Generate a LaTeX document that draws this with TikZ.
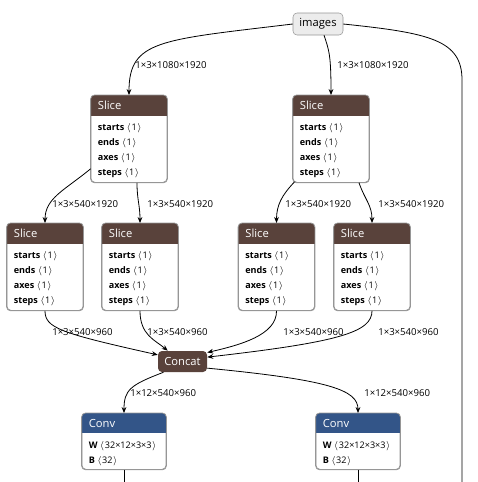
\documentclass[tikz,border=0pt]{standalone}
\usepackage{fontspec}
\setmainfont{Open Sans}
\usetikzlibrary{arrows.meta,calc}
\definecolor{tt}{RGB}{89,66,59}
\definecolor{layer}{RGB}{51,85,136}
\definecolor{frm}{RGB}{150,150,150}
\newcommand{\br}[1]{$\langle\mkern1mu$#1$\mkern1mu\rangle$}
\tikzset{
 edge/.style={-{Stealth[length=4.5pt,width=3.6pt]}, line width=0.6pt, black},
 plain/.style={line width=0.6pt, black},
 lbl/.style={font=\fontsize{7.2}{8}\selectfont, inner sep=0, anchor=west},
 ttl/.style={font=\fontsize{8.4}{10}\selectfont, text=white, inner sep=0, anchor=west},
 attr/.style={font=\fontsize{6.8}{8}\selectfont, inner sep=0, anchor=base west},
 opframe/.style={draw=frm, line width=0.6pt, rounded corners=3pt, fill=white, inner sep=0},
}
\newcommand{\slicebox}[3]{%
 \node[opframe, minimum width=57pt, minimum height=65.25pt, anchor=north] (#1) at (#2,#3) {};
 \begin{scope}
  \clip[rounded corners=3pt] (#1.north west) rectangle (#1.south east);
  \fill[tt] (#1.north west) rectangle ($(#1.north east)+(0,21)$);
 \end{scope}
 \draw[frm, line width=0.6pt, rounded corners=3pt] (#1.north west) rectangle (#1.south east);
 \node[ttl] (#1-t) at ($(#1.north west)+(7,10.5)$) {Slice};
 \node[attr] (#1-a1) at ($(#1.north west)+(7,35)$) {\textbf{starts} \br{1}};
 \node[attr] (#1-a2) at ($(#1.north west)+(7,50)$) {\textbf{ends} \br{1}};
 \node[attr] (#1-a3) at ($(#1.north west)+(7,65)$) {\textbf{axes} \br{1}};
 \node[attr] (#1-a4) at ($(#1.north west)+(7,80)$) {\textbf{steps} \br{1}};
}
\newcommand{\convbox}[3]{%
 \node[opframe, minimum width=63pt, minimum height=42pt, anchor=north] (#1) at (#2,#3) {};
 \begin{scope}
  \clip[rounded corners=3pt] (#1.north west) rectangle (#1.south east);
  \fill[layer] (#1.north west) rectangle ($(#1.north east)+(0,20)$);
 \end{scope}
 \draw[frm, line width=0.6pt, rounded corners=3pt] (#1.north west) rectangle (#1.south east);
 \node[ttl] (#1-t) at ($(#1.north west)+(7,10)$) {Conv};
 \node[attr] (#1-a1) at ($(#1.north west)+(7,35)$) {\textbf{W} \br{32×12×3×3}};
 \node[attr] (#1-a2) at ($(#1.north west)+(7,50)$) {\textbf{B} \br{32}};
}
\begin{document}
\begin{tikzpicture}[x=0.75pt,y=-0.75pt]
\useasboundingbox (0,0) rectangle (478,482);
\node[draw=frm, fill=gray!15, rounded corners=3pt, minimum width=37.5pt, minimum height=16.5pt, inner sep=0, font=\fontsize{8.4}{10}\selectfont] (img) at (318,24) {images};
\slicebox{s1}{129}{95}
\slicebox{s2}{331}{95}
\slicebox{sa}{45}{223}
\slicebox{sb}{140}{223}
\slicebox{sc}{276.5}{223}
\slicebox{sd}{372}{223}
\node[fill=tt, text=white, rounded corners=3pt, minimum width=36.75pt, minimum height=15.75pt, inner sep=0, font=\fontsize{8.4}{10}\selectfont] (cc) at (182.5,361.5) {Concat};
\convbox{v1}{124}{413}
\convbox{v2}{358}{413}
\coordinate (rt) at (462,482);
\coordinate (b1) at (124,482);
\coordinate (b2) at (358,482);
% edges
\draw[edge] (img.west) .. controls (160,40) and (129,40) .. (s1.north);
\draw[edge] ($(img.south)+(6,0)$) .. controls (329,50) and (331,55) .. (s2.north);
\draw[plain] (img.east) .. controls (430,33) and (462,40) .. (462,80) -- (rt);
\draw[edge] ($(s1.south west)+(0,-14)$) .. controls (65,190) and (45,198) .. (sa.north);
\draw[edge] ($(s1.south)+(8,0)$) .. controls (137,200) and (140,205) .. (sb.north);
\draw[edge] ($(s2.south west)+(2,-1)$) .. controls (282,195) and (276.5,205) .. (sc.north);
\draw[edge] ($(s2.south)+(28,0)$) .. controls (365,200) and (372,205) .. (sd.north);
\draw[edge] (sa.south) .. controls (45,328) and (60,333) .. (cc.165);
\draw[edge] (sb.south) .. controls (140,335) and (155,340) .. ($(cc.north west)+(10,0)$);
\draw[edge] (sc.south) .. controls (277,335) and (240,345) .. (cc.20);
\draw[edge] (sd.south) .. controls (372,332) and (340,342) .. (cc.10);
\draw[edge] ($(cc.south)+(-19,0)$) .. controls (130,385) and (124,390) .. (v1.north);
\draw[edge] (cc.-15) .. controls (330,380) and (358,390) .. (v2.north);
\draw[plain] (v1.south) -- (b1);
\draw[plain] (v2.south) -- (b2);
% labels
\node[lbl] (l1) at (135,65) {1×3×1080×1920};
\node[lbl] (l2) at (337,65) {1×3×1080×1920};
\node[lbl] (l3) at (52,204) {1×3×540×1920};
\node[lbl] (l4) at (147,204) {1×3×540×1920};
\node[lbl] (l5) at (285,204) {1×3×540×1920};
\node[lbl] (l6) at (378,204) {1×3×540×1920};
\node[lbl] (l7) at (52,332) {1×3×540×960};
\node[lbl] (l8) at (147,332) {1×3×540×960};
\node[lbl] (l9) at (283,332) {1×3×540×960};
\node[lbl] (l10) at (378,332) {1×3×540×960};
\node[lbl] (l11) at (130,393) {1×12×540×960};
\node[lbl] (l12) at (364,393) {1×12×540×960};
\end{tikzpicture}
\end{document}
